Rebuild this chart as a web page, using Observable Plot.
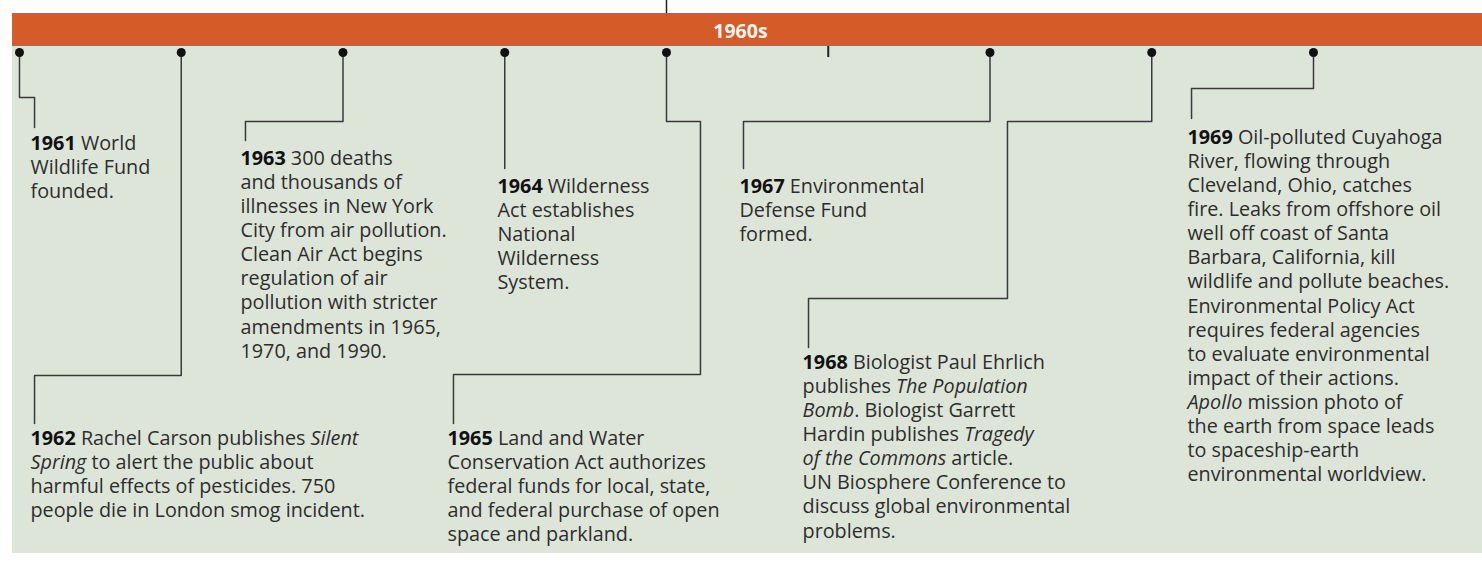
<!DOCTYPE html>
<html>
<head>
<meta charset="utf-8">
<script src="https://cdn.jsdelivr.net/npm/d3@7"></script>
<script src="https://cdn.jsdelivr.net/npm/@observablehq/plot@0.6"></script>
<style>
  html, body { margin: 0; padding: 0; background: #ffffff; }
  #chart svg { display: block; }
</style>
</head>
<body>
<div id="chart"></div>
<script>
// ---------- DATA ----------
const decadeLabel = "1960s";
const eventYears = [1961, 1962, 1963, 1964, 1965, 1967, 1968, 1969];
const eventTexts = [
  ["**1961** World", "Wildlife Fund", "founded."],
  ["**1962** Rachel Carson publishes *Silent*", "*Spring* to alert the public about", "harmful effects of pesticides. 750", "people die in London smog incident."],
  ["**1963** 300 deaths", "and thousands of", "illnesses in New York", "City from air pollution.", "Clean Air Act begins", "regulation of air", "pollution with stricter", "amendments in 1965,", "1970, and 1990."],
  ["**1964** Wilderness", "Act establishes", "National", "Wilderness", "System."],
  ["**1965** Land and Water", "Conservation Act authorizes", "federal funds for local, state,", "and federal purchase of open", "space and parkland."],
  ["**1967** Environmental", "Defense Fund", "formed."],
  ["**1968** Biologist Paul Ehrlich", "publishes *The Population*", "*Bomb*. Biologist Garrett", "Hardin publishes *Tragedy*", "*of the Commons* article.", "UN Biosphere Conference to", "discuss global environmental", "problems."],
  ["**1969** Oil-polluted Cuyahoga", "River, flowing through", "Cleveland, Ohio, catches", "fire. Leaks from offshore oil", "well off coast of Santa", "Barbara, California, kill", "wildlife and pollute beaches.", "Environmental Policy Act", "requires federal agencies", "to evaluate environmental", "impact of their actions.", "*Apollo* mission photo of", "the earth from space leads", "to spaceship-earth", "environmental worldview."]
];
const plainTickYears = [1966];
const topTickYears = [1965];

// ---------- LAYOUT (leader elbows, in year units / layout rows) ----------
const dotRow = 52;
const lineGap = 24.1;
// elbow points after the dot: [xOffsetYears, row]
const elbows = [
  [[0, 97], [0.093, 97], [0.093, 127]],
  [[0, 375], [-0.907, 375], [-0.907, 423]],
  [[0, 121], [-0.603, 121], [-0.603, 140]],
  [[0, 168]],
  [[0, 121], [0.210, 121], [0.210, 374], [-1.317, 374], [-1.317, 423]],
  [[0, 121], [-1.524, 121], [-1.524, 168]],
  [[0, 121], [-0.892, 121], [-0.892, 298], [-2.122, 298], [-2.122, 347]],
  [[0, 88], [-0.754, 88], [-0.754, 118]]
];
const labelAnchors = [
  [0.068, 143], [-0.932, 438], [-0.634, 158], [-0.045, 186],
  [-1.354, 438], [-1.549, 186], [-2.159, 362], [-0.779, 137]
];

// ---------- BUILD TABLES ----------
const events = eventYears.map((year, i) => ({year, lines: eventTexts[i]}));
const leaderPts = events.flatMap((e, i) =>
  [[0, dotRow], ...elbows[i]].map(([dx, r]) => ({id: e.year, x: e.year + dx, y: r}))
);
const textLines = events.flatMap((e, i) =>
  e.lines.map((t, k) => ({x: e.year + labelAnchors[i][0], y: labelAnchors[i][1] + k * lineGap, t}))
);
const band = [{x1: 1960.957, x2: 1970.06}];

const chart = Plot.plot({
  width: 1482,
  height: 565,
  margin: 0,
  style: {background: "transparent", fontFamily: "'Open Sans', sans-serif", color: "#2a2a2a"},
  x: {domain: [1961, 1969], range: [19, 1313], axis: null},
  y: {domain: [0, 565], range: [0, 565], axis: null},
  marks: [
    Plot.rect(band, {x1: "x1", x2: "x2", y1: 13, y2: 553, fill: "#dde5d9"}),
    Plot.rect(band, {x1: "x1", x2: "x2", y1: 13, y2: 46, fill: "#d55b29"}),
    Plot.text([decadeLabel], {x: 1965.457, y: 31, text: d => d, fill: "#fbf3ee", fontWeight: 700, fontSize: 19.5, textAnchor: "middle"}),
    Plot.ruleX(topTickYears, {x: d => d, y1: 0, y2: 13, stroke: "#222", strokeWidth: 1.5}),
    Plot.ruleX(plainTickYears, {x: d => d, y1: 46, y2: 57, stroke: "#222", strokeWidth: 2}),
    Plot.line(leaderPts, {x: "x", y: "y", z: "id", stroke: "#3a3a3a", strokeWidth: 1.5}),
    Plot.dot(events, {x: "year", y: dotRow, r: 4.5, fill: "#111", stroke: "none"}),
    Plot.text(textLines, {x: "x", y: "y", text: "t", textAnchor: "start", lineAnchor: "middle",
      fontSize: 19.8, fill: "#2d2d2d", className: "evt"})
  ]
});

// rich text: **bold**, *italic*
chart.querySelectorAll("g.evt text").forEach(el => {
  const s = el.textContent;
  el.textContent = "";
  el.setAttribute("style", "white-space:pre");
  s.split(/(\*\*[^*]+\*\*|\*[^*]+\*)/).filter(p => p.length).forEach(p => {
    const ts = document.createElementNS("http://www.w3.org/2000/svg", "tspan");
    if (p.startsWith("**")) { ts.textContent = p.slice(2, -2); ts.setAttribute("font-weight", "700"); ts.setAttribute("fill", "#111"); }
    else if (p.startsWith("*")) { ts.textContent = p.slice(1, -1); ts.setAttribute("font-style", "italic"); }
    else ts.textContent = p;
    el.appendChild(ts);
  });
});

document.getElementById("chart").appendChild(chart);
</script>
</body>
</html>
